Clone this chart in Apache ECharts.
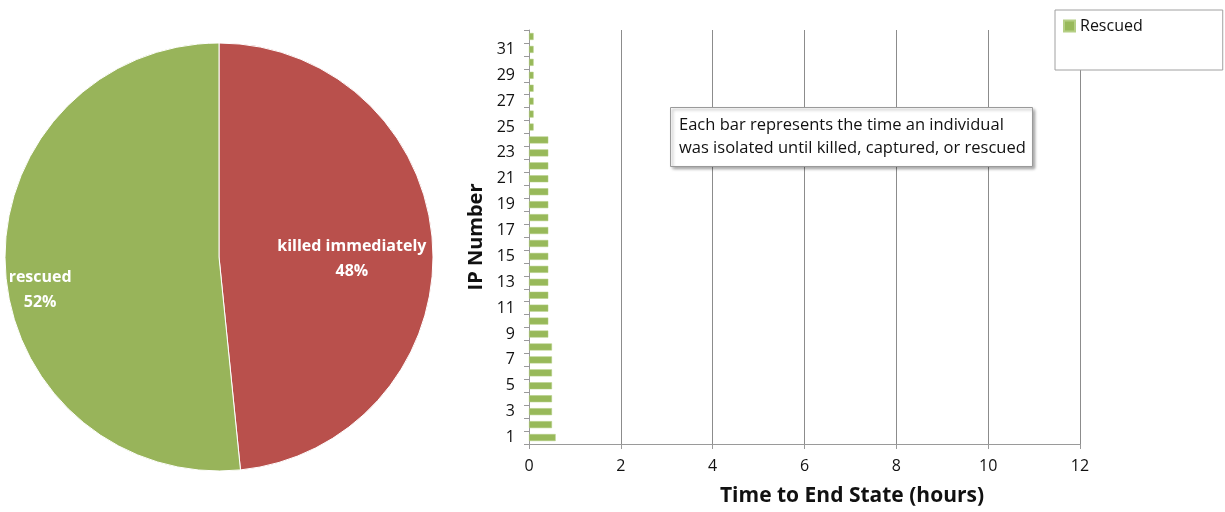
<!DOCTYPE html>
<html><head><meta charset="utf-8">
<script src="https://cdn.jsdelivr.net/npm/echarts@6/dist/echarts.min.js"></script>
<style>html,body{margin:0;padding:0;background:#fff}#c{width:1225px;height:512px}</style>
</head><body><div id="c"></div>
<script>
const pieNames = ['killed immediately', 'rescued'];
const pieValues = [48.4, 51.6];
const ipNumbers = Array.from({length: 32}, (_, i) => String(i + 1));
const rescuedHours = [0.58, 0.5, 0.5, 0.5, 0.5, 0.5, 0.5, 0.5,
  0.42, 0.42, 0.42, 0.42, 0.42, 0.42, 0.42, 0.42,
  0.42, 0.42, 0.42, 0.42, 0.42, 0.42, 0.42, 0.42,
  0.1, 0.1, 0.1, 0.1, 0.1, 0.1, 0.1, 0.1];
const xTicks = [0, 2, 4, 6, 8, 10, 12];
const noteText = 'Each bar represents the time an individual\nwas isolated until killed, captured, or rescued';

const FONT = '"Open Sans", sans-serif';
const chart = echarts.init(document.getElementById('c'));
const labelOffsets = [[23, 7], [-69, 27]];
const pieColors = ['#B9504C', '#98B45A'];
chart.setOption({
  animation: false,
  textStyle: {fontFamily: FONT},
  title: {
    text: noteText,
    left: 670, top: 107,
    padding: [7, 7, 7, 9],
    borderColor: '#9a9a9a', borderWidth: 1,
    backgroundColor: '#fff',
    shadowColor: 'rgba(0,0,0,0.35)', shadowBlur: 3, shadowOffsetX: 2, shadowOffsetY: 2,
    textStyle: {fontFamily: FONT, fontSize: 16.5, fontWeight: 'normal', color: '#111', lineHeight: 23}
  },
  legend: {
    left: 1055, top: 10,
    data: ['Rescued'],
    backgroundColor: '#fff', borderColor: '#a0a0a0', borderWidth: 1,
    padding: [8, 80, 36, 8],
    itemWidth: 11, itemHeight: 11, itemGap: 5,
    textStyle: {fontFamily: FONT, fontSize: 16, color: '#111'},
    icon: 'rect'
  },
  grid: {left: 529, right: 145, top: 30, bottom: 67},
  xAxis: {
    type: 'value', min: xTicks[0], max: xTicks[xTicks.length - 1], interval: 2,
    name: 'Time to End State (hours)', nameLocation: 'middle', nameGap: 42,
    nameTextStyle: {fontFamily: FONT, fontSize: 21, fontWeight: 'bold', color: '#111', padding: [0, 0, 0, 95]},
    axisLine: {show: true, lineStyle: {color: '#9a9a9a'}},
    axisTick: {show: true, length: 5, lineStyle: {color: '#9a9a9a'}},
    axisLabel: {fontFamily: FONT, fontSize: 16, color: '#111', margin: 14},
    splitLine: {show: true, lineStyle: {color: '#8c8c8c', width: 1}}
  },
  yAxis: {
    type: 'category', data: ipNumbers,
    name: 'IP Number', nameLocation: 'middle', nameGap: 43,
    nameTextStyle: {fontFamily: FONT, fontSize: 20, fontWeight: 'bold', color: '#111'},
    axisLine: {show: true, lineStyle: {color: '#9a9a9a'}},
    axisTick: {show: true, length: 5, interval: 0, alignWithLabel: false, lineStyle: {color: '#9a9a9a'}},
    axisLabel: {fontFamily: FONT, fontSize: 16, color: '#111', margin: 14, interval: 1},
    splitLine: {show: false}
  },
  series: [
    {
      type: 'pie', center: [219, 257], radius: 214, startAngle: 90, clockwise: true,
      data: pieNames.map((n, i) => ({
        name: n, value: pieValues[i],
        itemStyle: {color: pieColors[i]},
        label: {offset: labelOffsets[i]}
      })),
      itemStyle: {borderColor: '#fff', borderWidth: 1},
      label: {
        show: true, position: 'inner',
        formatter: p => p.name + '\n' + Math.round(p.percent) + '%',
        color: '#fff', fontFamily: FONT, fontSize: 16, fontWeight: 'bold', lineHeight: 25, align: 'center'
      },
      labelLine: {show: false},
      silent: true
    },
    {
      type: 'bar', name: 'Rescued', data: rescuedHours, barWidth: 7,
      itemStyle: {color: '#98B95A', borderColor: '#B5CF85', borderWidth: 0.5}
    }
  ]
});
</script></body></html>
